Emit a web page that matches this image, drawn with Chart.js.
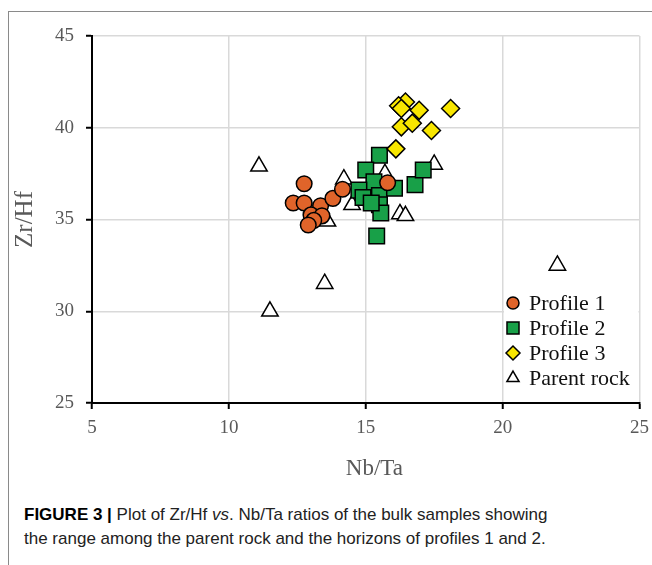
<!DOCTYPE html>
<html>
<head>
<meta charset="utf-8">
<script src="https://cdn.jsdelivr.net/npm/chart.js@4.4.0/dist/chart.umd.min.js"></script>
<style>
    html, body { margin: 0; padding: 0; background: #fff; }
    body { width: 652px; height: 565px; position: relative; overflow: hidden; }
    .frame {
        position: absolute; left: 8px; top: 11px; width: 700px; height: 600px;
        border-left: 1px solid #8a8a8a; border-top: 1px solid #8a8a8a;
    }
    #chartWrap { position: absolute; left: 0; top: 0; width: 652px; height: 490px; }
    .caption {
        position: absolute; left: 24px; top: 503px; width: 628px; white-space: nowrap;
        font-family: "Liberation Sans", Arial, sans-serif;
        font-size: 17px; line-height: 24px; color: #222;
    }
    .caption b { color: #000; }
</style>
</head>
<body>
<div class="frame"></div>
<div id="chartWrap"><canvas id="zrHfChart" width="652" height="490"></canvas></div>
<div class="caption"><b>FIGURE 3 |</b> Plot of Zr/Hf <i>vs</i>. Nb/Ta ratios of the bulk samples showing<br>the range among the parent rock and the horizons of profiles 1 and 2.</div>

<script>
// Nb/Ta (x) and Zr/Hf (y)
const profile1Nb = [12.75, 12.35, 12.75, 13.35, 13.8, 14.15, 13.0, 13.4, 13.1, 12.9, 15.8];
const profile1Zr = [36.95, 35.9, 35.9, 35.75, 36.15, 36.65, 35.25, 35.2, 34.95, 34.7, 37.0];

const profile2Nb = [15.5, 15.0, 15.3, 14.75, 14.9, 15.5, 16.05, 15.5, 15.55, 15.4, 16.8, 17.1, 15.2];
const profile2Zr = [38.5, 37.7, 37.05, 36.6, 36.2, 36.3, 36.7, 35.8, 35.35, 34.1, 36.9, 37.7, 35.9];

const profile3Nb = [16.45, 16.2, 16.3, 16.95, 18.1, 16.3, 16.7, 17.4, 16.1];
const profile3Zr = [41.4, 41.2, 41.05, 40.95, 41.05, 40.05, 40.25, 39.85, 38.85];

const parentNb = [11.1, 11.5, 13.5, 14.2, 14.5, 13.6, 15.7, 17.5, 16.25, 16.45, 22.0];
const parentZr = [37.9, 30.0, 31.5, 37.2, 35.8, 34.9, 37.5, 38.0, 35.3, 35.2, 32.5];

const xTicks = [5, 10, 15, 20, 25];
const yTicks = [25, 30, 35, 40, 45];

function toPoints(xs, ys) {
    return xs.map(function (x, i) { return { x: x, y: ys[i] }; });
}

const serif = '"Liberation Serif", "Times New Roman", serif';

// Legend drawn inside the plot, lower right, on a white patch
const insideLegend = {
    id: 'insideLegend',
    afterDatasetsDraw(chart) {
        const ctx = chart.ctx;
        const area = chart.chartArea;
        ctx.save();
        ctx.fillStyle = '#fff';
        ctx.fillRect(504, 287, area.right - 505, 108);
        [0, 1, 2, 3].forEach(function (idx, row) {
            const ds = chart.data.datasets[idx];
            const y = 303 + row * 25;
            ctx.fillStyle = ds.pointBackgroundColor;
            ctx.strokeStyle = '#000';
            ctx.lineWidth = 1.5;
            Chart.helpers.drawPoint(ctx, {
                pointStyle: ds.pointStyle,
                radius: ds.legendRadius,
                rotation: 0,
                borderWidth: 1.5
            }, 513, y);
            ctx.fillStyle = '#111';
            ctx.font = '22px ' + serif;
            ctx.textBaseline = 'middle';
            ctx.textAlign = 'left';
            ctx.fillText(ds.label, 529, y + 1);
        });
        ctx.restore();
    }
};

function fixedAxis(ticks, size, isX) {
    return {
        type: 'linear',
        min: ticks[0],
        max: ticks[ticks.length - 1],
        afterFit: function (scale) {
            if (isX) { scale.height = size; } else { scale.width = size; }
            scale.paddingLeft = 0;
            scale.paddingRight = 0;
        },
        afterBuildTicks: function (scale) {
            scale.ticks = ticks.map(function (v) { return { value: v }; });
        },
        grid: {
            color: '#d9d9d9',
            lineWidth: 1.5,
            tickColor: '#000',
            tickWidth: 2,
            tickLength: 6
        },
        border: { color: '#000', width: 2 },
        ticks: {
            padding: isX ? 8 : 12,
            color: '#595959',
            font: { family: serif, size: 19 }
        },
        title: {
            display: true,
            // leading spaces nudge the x title right, as in the source figure
            text: isX ? '   Nb/Ta' : 'Zr/Hf',
            color: '#595959',
            font: { family: serif, size: isX ? 23 : 25 },
            padding: isX ? { top: 0, bottom: 7 } : { top: 0, bottom: 0 }
        }
    };
}

const ctx = document.getElementById('zrHfChart');
new Chart(ctx.getContext('2d'), {
    type: 'scatter',
    data: {
        datasets: [{
            label: 'Profile 1',
            data: toPoints(profile1Nb, profile1Zr),
            pointStyle: 'circle',
            pointRadius: 7.8,
            pointHoverRadius: 7.8,
            legendRadius: 6,
            pointBackgroundColor: '#E0642A',
            pointBorderColor: '#000',
            pointBorderWidth: 1.5,
            order: 0
        }, {
            label: 'Profile 2',
            data: toPoints(profile2Nb, profile2Zr),
            pointStyle: 'rect',
            pointRadius: 11,
            pointHoverRadius: 11,
            legendRadius: 8.5,
            pointBackgroundColor: '#18A048',
            pointBorderColor: '#000',
            pointBorderWidth: 1.5,
            order: 2
        }, {
            label: 'Profile 3',
            data: toPoints(profile3Nb, profile3Zr),
            pointStyle: 'rectRot',
            pointRadius: 9,
            pointHoverRadius: 9,
            legendRadius: 7,
            pointBackgroundColor: '#F8E600',
            pointBorderColor: '#000',
            pointBorderWidth: 1.5,
            order: 1
        }, {
            label: 'Parent rock',
            data: toPoints(parentNb, parentZr),
            pointStyle: 'triangle',
            pointRadius: 9.5,
            pointHoverRadius: 9.5,
            legendRadius: 7,
            pointBackgroundColor: '#fff',
            pointBorderColor: '#000',
            pointBorderWidth: 1.5,
            order: 3
        }]
    },
    options: {
        responsive: false,
        animation: false,
        events: [],
        layout: { padding: { left: 10, right: 11, top: 36, bottom: 0 } },
        plugins: {
            legend: { display: false },
            tooltip: { enabled: false }
        },
        scales: {
            x: fixedAxis(xTicks, 87, true),
            y: fixedAxis(yTicks, 82, false)
        }
    },
    plugins: [insideLegend]
});
</script>
</body>
</html>
